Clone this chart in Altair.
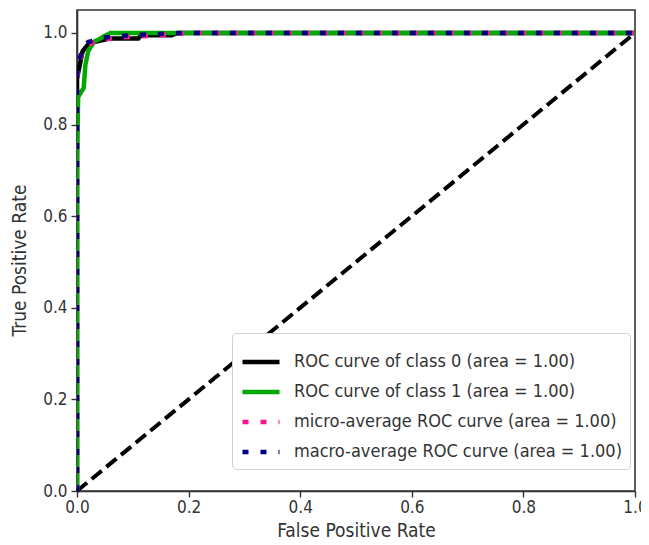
import altair as alt
import pandas as pd

names = [
    "ROC curve of class 0 (area = 1.00)",
    "ROC curve of class 1 (area = 1.00)",
    "micro-average ROC curve (area = 1.00)",
    "macro-average ROC curve (area = 1.00)",
]
colors = ["#000000", "#00a800", "#ff1493", "#000080"]
dashes = [[1, 0], [1, 0], [6, 12], [6, 12]]

fpr0 = [0.0, 0.0, 0.005, 0.01, 0.02, 0.03, 0.06, 0.11, 0.115, 0.17, 0.18, 1.0]
tpr0 = [0.0, 0.90, 0.93, 0.96, 0.975, 0.98, 0.988, 0.988, 0.995, 0.995, 1.0, 1.0]

fpr1 = [0.0, 0.0, 0.002, 0.012, 0.015, 0.02, 0.03, 0.045, 0.06, 1.0]
tpr1 = [0.0, 0.72, 0.86, 0.88, 0.93, 0.96, 0.98, 0.99, 1.0, 1.0]

fpr_micro = [0.0, 0.0, 0.005, 0.01, 0.02, 0.04, 0.08, 0.15, 0.2, 1.0]
tpr_micro = [0.0, 0.90, 0.94, 0.96, 0.975, 0.985, 0.99, 0.995, 1.0, 1.0]

fpr_macro = [0.0, 0.0, 0.005, 0.01, 0.02, 0.05, 0.1, 0.19, 1.0]
tpr_macro = [0.0, 0.91, 0.945, 0.965, 0.98, 0.99, 0.995, 1.0, 1.0]

diag_x = [0.0, 1.0]
diag_y = [0.0, 1.0]

tick_vals = [0, 0.2, 0.4, 0.6, 0.8, 1.0]

rows = []
for i, (fx, ty) in enumerate([(fpr0, tpr0), (fpr1, tpr1), (fpr_micro, tpr_micro), (fpr_macro, tpr_macro)]):
    for k, (a, b) in enumerate(zip(fx, ty)):
        rows.append({"series": names[i], "fpr": a, "tpr": b, "order": k, "s": i})
df = pd.DataFrame(rows)
ddf = pd.DataFrame({"fpr": diag_x, "tpr": diag_y})

FONT = "DejaVu Sans Condensed, DejaVu Sans"
TXT = "#333333"

xs = alt.Scale(domain=[0, 1], nice=False, zero=False)
ys = alt.Scale(domain=[0, 1.05], nice=False, zero=False)

curves = alt.Chart(df).mark_line(strokeWidth=4.5, strokeCap="butt", clip=True).encode(
    x=alt.X("fpr:Q", scale=xs, title="False Positive Rate",
            axis=alt.Axis(values=tick_vals, format=".1f", labelFlush=False)),
    y=alt.Y("tpr:Q", scale=ys, title="True Positive Rate",
            axis=alt.Axis(values=tick_vals, format=".1f", labelFlush=False, titleY=250)),
    color=alt.Color("series:N", scale=alt.Scale(domain=names, range=colors),
                    legend=alt.Legend(orient="none", legendX=155, legendY=323, title=None,
                                      fillColor="white", strokeColor="#d0d0d0", cornerRadius=4,
                                      padding=8, labelFontSize=18, labelFont=FONT, labelColor=TXT,
                                      labelLimit=0,
                                      symbolType="stroke", symbolSize=1369, symbolStrokeWidth=4.5,
                                      rowPadding=0, labelOffset=12)),
    strokeDash=alt.StrokeDash("series:N", scale=alt.Scale(domain=names, range=dashes), legend=None),
    order="order:Q",
    detail="s:N",
)

diag = alt.Chart(ddf).mark_line(color="black", strokeWidth=4, strokeDash=[13, 6], strokeCap="butt").encode(
    x=alt.X("fpr:Q", scale=xs),
    y=alt.Y("tpr:Q", scale=ys),
)

chart = alt.layer(diag, curves).properties(
    width=558, height=481,
    autosize=alt.AutoSizeParams(type="none"),
    padding={"left": 69, "top": 2, "right": 6, "bottom": 54},
).configure_view(stroke="#333333", strokeWidth=1.6).configure_axis(
    grid=False, domainColor="#333333", domainWidth=1.6, tickColor="#333333", tickWidth=1.4,
    tickSize=6, labelFont=FONT, labelFontSize=17, labelColor=TXT,
    titleFont=FONT, titleFontSize=19, titleColor=TXT, titleFontWeight="normal",
).configure_axisX(labelPadding=2, titlePadding=6).configure_axisY(labelPadding=4, titlePadding=13)

chart.save("out.html", embed_options={"renderer": "svg", "actions": False})
